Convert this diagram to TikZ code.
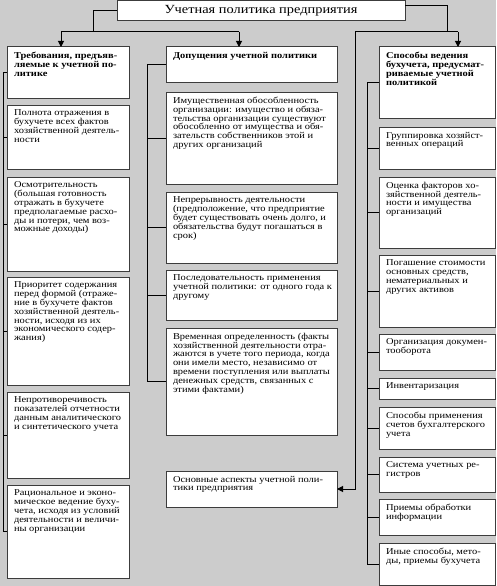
\documentclass[tikz,border=0pt]{standalone}
\usepackage{fontspec}
\setmainfont{Liberation Serif}[FakeStretch=1.16]
\usetikzlibrary{arrows.meta}
\definecolor{bg}{RGB}{204,204,204}
\definecolor{edge}{RGB}{60,60,60}
\newcommand\txtfont{\fontsize{9}{8.8}\selectfont}
\newcommand\hdfont{\fontsize{9}{8.9}\selectfont\bfseries}
% name, x, y, w, h, font, text
\newcommand\bx[7]{%
  \node[box, minimum width=#4pt, minimum height=#5pt] (#1) at (#2,#3)
  {\makebox[\dimexpr#4pt-14pt\relax][l]{\parbox[t][\dimexpr#5pt-10pt\relax][t]{300pt}{#6\lineskiplimit=-100pt\lineskip=0pt\raggedright #7}}};}
\begin{document}
\begin{tikzpicture}[x=1pt,y=-1pt,
  box/.style={draw=edge, fill=white, line width=1pt, anchor=north west, inner xsep=7pt, inner ysep=5pt, outer sep=0pt},
  conn/.style={draw=black, line width=1pt},
  arr/.style={conn, -{Triangle[width=6pt,length=6pt]}}]
\fill[bg] (0,0) rectangle (496,586);
\useasboundingbox (0,0) rectangle (496,586);

\node[box, minimum width=288pt, minimum height=20pt, inner ysep=0pt, font=\fontsize{12.4}{12.4}\selectfont] (title) at (117,1) {Учетная политика предприятия};

\bx{L0}{7}{47}{122}{51}{\hdfont}{Требования, предъяв-\\ляемые к учетной по-\\литике}
\bx{L1}{7}{105}{122}{64}{\txtfont}{Полнота отражения в\\бухучете всех фактов\\хозяйственной деятель-\\ности}
\bx{L2}{7}{177}{122}{94}{\txtfont}{Осмотрительность\\(большая готовность\\отражать в бухучете\\предполагаемые расхо-\\ды и потери, чем воз-\\можные доходы)}
\bx{L3}{7}{277}{122}{108}{\txtfont}{Приоритет содержания\\перед формой (отраже-\\ние в бухучете фактов\\хозяйственной деятель-\\ности, исходя из их\\экономического содер-\\жания)}
\bx{L4}{7}{392}{122}{86}{\txtfont}{Непротиворечивость\\показателей отчетности\\данным аналитического\\и синтетического учета}
\bx{L5}{7}{485}{122}{93}{\txtfont}{Рациональное и эконо-\\мическое ведение буху-\\чета, исходя из условий\\деятельности и величи-\\ны организации}

\bx{M0}{166}{47}{171}{35}{\hdfont}{Допущения учетной политики}
\bx{M1}{166}{92}{171}{92}{\txtfont}{Имущественная обособленность\\организации: имущество и обяза-\\тельства организации существуют\\обособленно от имущества и обя-\\зательств собственников этой и\\других организаций}
\bx{M2}{166}{192}{171}{71}{\txtfont}{Непрерывность деятельности\\(предположение, что предприятие\\будет существовать очень долго, и\\обязательства будут погашаться в\\срок)}
\bx{M3}{166}{270}{171}{50}{\txtfont}{Последовательность применения\\учетной политики: от одного года к\\другому}
\bx{M4}{166}{328}{171}{107}{\txtfont}{Временная определенность (факты\\хозяйственной деятельности отра-\\жаются в учете того периода, когда\\они имели место, независимо от\\времени поступления или выплаты\\денежных средств, связанных с\\этими фактами)}
\bx{A}{166}{471}{171}{36}{\txtfont}{Основные аспекты учетной поли-\\тики предприятия}

\bx{R0}{379}{47}{116}{71}{\hdfont}{Способы ведения\\бухучета, предусмат-\\риваемые учетной\\политикой}
\bx{R1}{379}{127}{116}{42}{\txtfont}{Группировка хозяйст-\\венных операций}
\bx{R2}{379}{177}{116}{71}{\txtfont}{Оценка факторов хо-\\зяйственной деятель-\\ности и имущества\\организаций}
\bx{R3}{379}{255}{116}{72}{\txtfont}{Погашение стоимости\\основных средств,\\нематериальных и\\других активов}
\bx{R4}{379}{334}{116}{36}{\txtfont}{Организация докумен-\\тооборота}
\bx{R5}{379}{378}{116}{21}{\txtfont}{Инвентаризация}
\bx{R6}{379}{407}{116}{42}{\txtfont}{Способы применения\\счетов бухгалтерского\\учета}
\bx{R7}{379}{457}{116}{35}{\txtfont}{Система учетных ре-\\гистров}
\bx{R8}{379}{499}{116}{36}{\txtfont}{Приемы обработки\\информации}
\bx{R9}{379}{543}{116}{42}{\txtfont}{Иные способы, мето-\\ды, приемы бухучета}

% top connectors
\coordinate (jt) at (93,32);
\coordinate (jl) at (61,32);
\coordinate (jm) at (239,32);
\coordinate (jr1) at (447,32);
\coordinate (jr0) at (355,32);
\coordinate (jr2) at (458,32);
\draw[conn] (title.west) -| (jt);
\draw[conn] (jl) -- (jm);
\draw[arr] (jl) -- (jl |- L0.north);
\draw[arr] (jm) -- (jm |- M0.north);
\draw[conn] ([yshift=-5pt]title.north east) -| (jr1);
\draw[conn] (jr0) -- (jr2);
\draw[arr] (jr2) -- (jr2 |- R0.north);
\draw[arr] (jr0) |- (A.east);

% left column
\coordinate (xl) at (3,0);
\draw[conn] (xl |- L0.west) -- (xl |- L5.west);
\foreach \n in {L0,L1,L2,L3,L4,L5} \draw[conn] (xl |- \n.west) -- (\n.west);
% middle column
\coordinate (xm) at (147,0);
\draw[conn] (xm |- M0.west) -- (xm |- M4.west);
\foreach \n in {M0,M1,M2,M3,M4} \draw[conn] (xm |- \n.west) -- (\n.west);
% right column
\coordinate (xr) at (367,0);
\draw[conn] (xr |- R0.west) -- (xr |- R9.west);
\foreach \n in {R0,R1,R2,R3,R4,R5,R6,R7,R8,R9} \draw[conn] (xr |- \n.west) -- (\n.west);
\end{tikzpicture}
\end{document}
